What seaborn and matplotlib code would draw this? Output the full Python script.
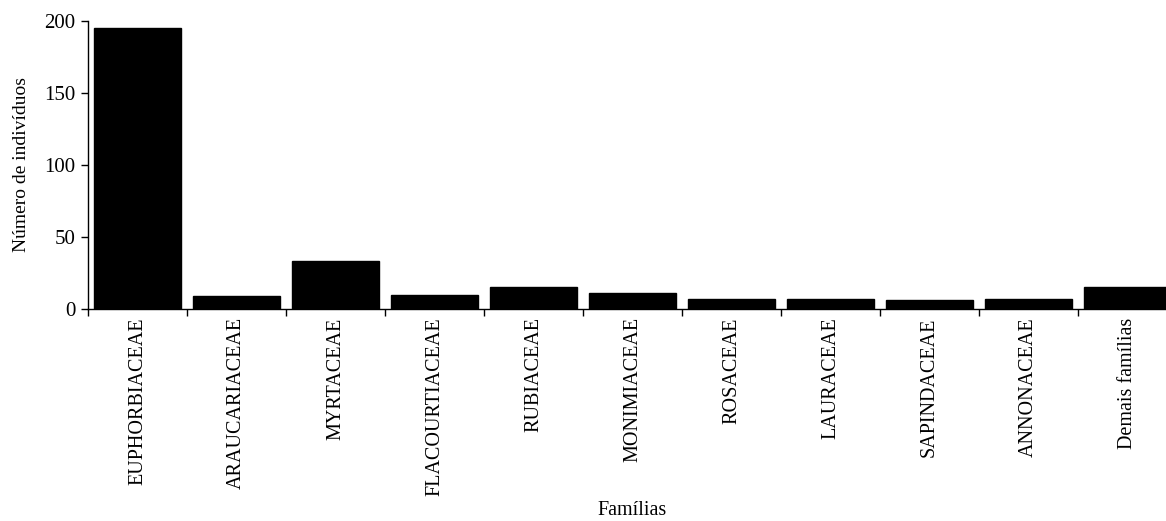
import matplotlib
matplotlib.use("Agg")
import matplotlib.pyplot as plt
import seaborn as sns
import pandas as pd
import numpy as np

familias = ["EUPHORBIACEAE", "ARAUCARIACEAE", "MYRTACEAE", "FLACOURTIACEAE",
            "RUBIACEAE", "MONIMIACEAE", "ROSACEAE", "LAURACEAE",
            "SAPINDACEAE", "ANNONACEAE", "Demais famílias"]
individuos = [195, 9, 33, 10, 15, 11, 7, 7, 6, 7, 15]
y_ticks = [0, 50, 100, 150, 200]

sns.set_theme(style="white")
plt.rcParams['font.family'] = ['Liberation Serif', 'DejaVu Serif']
plt.rcParams['text.color'] = 'black'
plt.rcParams['axes.labelcolor'] = 'black'
plt.rcParams['xtick.color'] = 'black'
plt.rcParams['ytick.color'] = 'black'

df = pd.DataFrame({"Famílias": familias, "Número de indivíduos": individuos})

fig = plt.figure(figsize=(11.66, 5.21), dpi=100)
ax = fig.add_axes([88/1166, 212/521, 1089/1166, 288/521])

sns.barplot(data=df, x="Famílias", y="Número de indivíduos", ax=ax,
            color="black", width=0.88, saturation=1, edgecolor="black")

ax.set_xlim(-0.5, len(familias) - 0.5)
ax.set_ylim(0, 200)
ax.set_yticks(y_ticks)
ax.set_yticklabels([str(v) for v in y_ticks], fontsize=15)

ax.set_xticks(range(len(familias)))
ax.set_xticklabels(familias, rotation=90, fontsize=14.5)
ax.set_xticks(np.arange(-0.5, len(familias), 1), minor=True)
ax.tick_params(axis="x", which="major", length=0, pad=6)
ax.tick_params(axis="x", which="minor", length=5, width=1, direction="out", color="black", bottom=True)
ax.tick_params(axis="y", which="major", length=5, width=1, direction="out", color="black", left=True, pad=4)

for s in ["top", "right"]:
    ax.spines[s].set_visible(False)
for s in ["left", "bottom"]:
    ax.spines[s].set_color("black")
    ax.spines[s].set_linewidth(1)

ax.set_xlabel("Famílias", fontsize=14.5, va="center")
ax.xaxis.set_label_coords(0.5, -0.698)
ax.set_ylabel("Número de indivíduos", fontsize=14, va="center")
ax.yaxis.set_label_coords(-66/1089 * 1089/288 * 288/1089, 0.5)

fig.savefig("out.png", dpi=100)
